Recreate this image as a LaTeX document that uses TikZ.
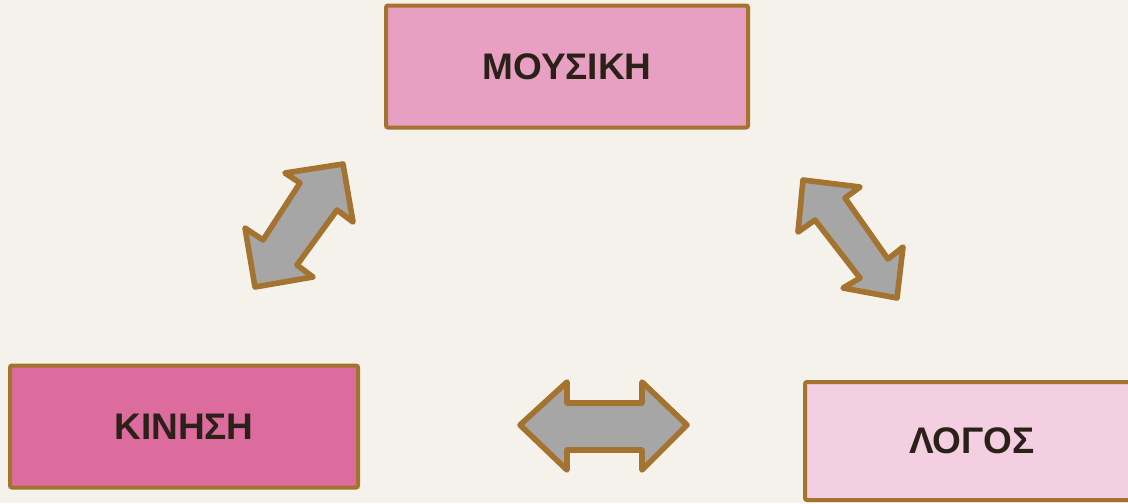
\documentclass[tikz,border=0pt]{standalone}
\usepackage{fontspec}
\setmainfont{Liberation Sans}
\definecolor{paper}{HTML}{F5F2EC}
\definecolor{frame}{HTML}{A3732F}
\definecolor{ink}{HTML}{2B2118}
\definecolor{pinkmid}{HTML}{E8A0C2}
\definecolor{pinkdeep}{HTML}{DC6B9E}
\definecolor{pinklight}{HTML}{F3CFE1}
\definecolor{arrowgray}{HTML}{A6A6A6}
\tikzset{
  box/.style={draw=frame, line width=2pt, rounded corners=1pt, rectangle,
    font=\bfseries\fontsize{18.5}{20}\selectfont, text=ink, inner sep=0pt},
  blockarrow/.style={draw=frame, fill=arrowgray, line width=2.8pt, line join=round}
}
\begin{document}
\begin{tikzpicture}[x=0.5pt, y=-0.5pt]
  % page and background
  \fill[paper] (0,0) rectangle (1128,503);
  \useasboundingbox (0,0) rectangle (1128,503);

  % the three boxes
  \node[box, fill=pinkmid, minimum width=181pt, minimum height=61pt] (music) at (567,66.5) {ΜΟΥΣΙΚΗ};
  \node[box, fill=pinkdeep, minimum width=174pt, minimum height=61pt] (move) at (184,426.5) {ΚΙΝΗΣΗ};
  \begin{scope}
    \clip (0,0) rectangle (1128,503);
    \node[box, fill=pinklight, minimum width=167pt, minimum height=59pt] (word) at (972,441) {ΛΟΓΟΣ};
  \end{scope}

  % double-headed block arrows
  \draw[blockarrow] (285,173) -- (343,164) -- (353,222) -- (337,210) -- (297,265)
    -- (313,277) -- (255,287) -- (245,228) -- (263,240) -- (300,183) -- cycle;
  \draw[blockarrow] (803,180) -- (860,187) -- (845,198) -- (888,259) -- (903,247)
    -- (897,298) -- (843,288) -- (860,278) -- (815,220) -- (798,232) -- cycle;
  \draw[blockarrow] (520,425) -- (567,382) -- (567,403) -- (642,403) -- (642,382)
    -- (687,425) -- (642,470) -- (642,450) -- (567,450) -- (567,470) -- cycle;
\end{tikzpicture}
\end{document}
